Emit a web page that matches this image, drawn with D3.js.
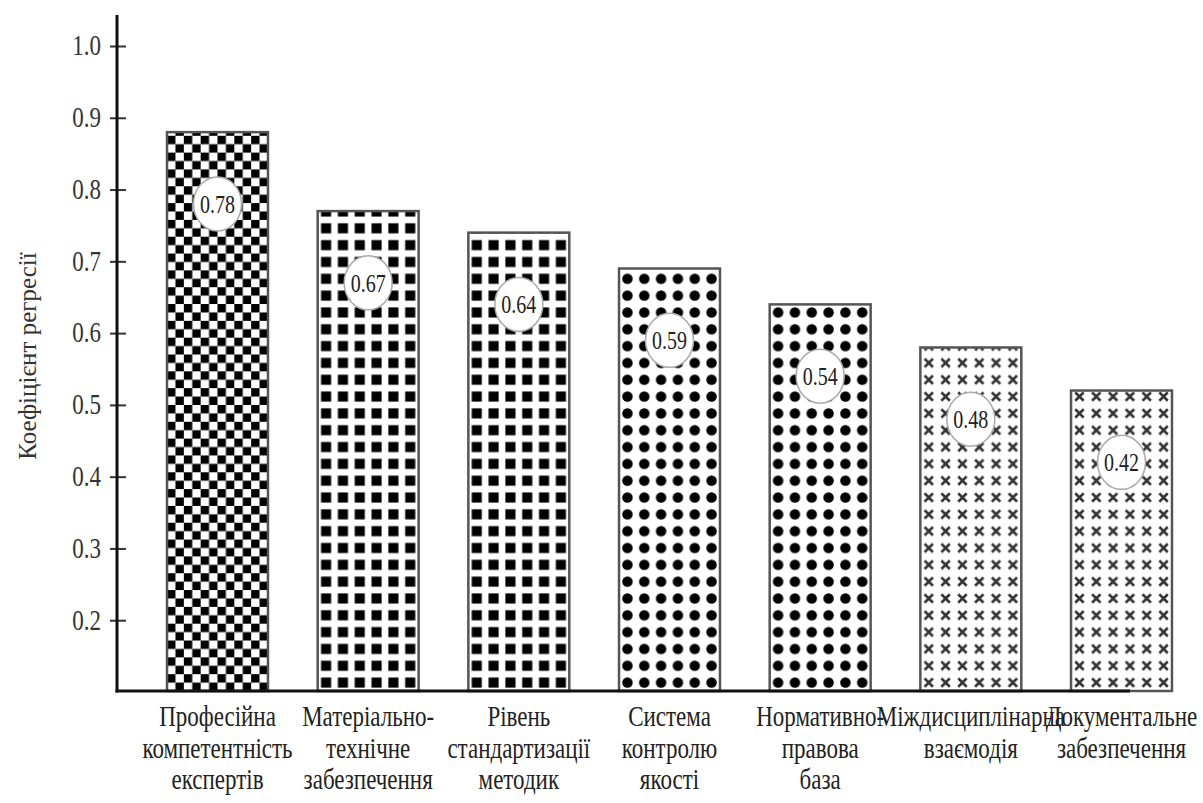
<!DOCTYPE html>
<html lang="uk">
<head>
<meta charset="utf-8">
<title>Коефіцієнт регресії</title>
<script src="https://cdn.jsdelivr.net/npm/d3@7"></script>
<style>
  html, body { margin: 0; padding: 0; background: #ffffff; }
  svg { display: block; }
  text { font-family: "Liberation Serif", "Times New Roman", serif; }
</style>
</head>
<body>
<svg id="chart" width="1203" height="803"></svg>
<script>
// Factors and their regression coefficients
const categories = [
  ["Професійна", "компетентність", "експертів"],
  ["Матеріально-", "технічне", "забезпечення"],
  ["Рівень", "стандартизації", "методик"],
  ["Система", "контролю", "якості"],
  ["Нормативно-", "правова", "база"],
  ["Міждисциплінарна", "взаємодія"],
  ["Документальне", "забезпечення"]
];
const coefficients = [0.78, 0.67, 0.64, 0.59, 0.54, 0.48, 0.42];
const valueLabels = ["0.78", "0.67", "0.64", "0.59", "0.54", "0.48", "0.42"];

// Y axis ticks as printed on the scale
const tickValues = [0.1, 0.2, 0.3, 0.4, 0.5, 0.6, 0.7, 0.8, 0.9];
const tickLabels = ["0.2", "0.3", "0.4", "0.5", "0.6", "0.7", "0.8", "0.9", "1.0"];

const yTitle = "Коефіцієнт регресії";

// Fill pattern of each bar
const fills = ["checker", "squares", "squares", "dots", "dots", "cross", "cross"];

const svg = d3.select("#chart");
const stretch = 1.28; // glyphs are drawn taller than wide

const axisX = 117;
const keys = categories.map((c, i) => "c" + i);

const x = d3.scaleBand()
  .domain(keys)
  .range([axisX, 1222])
  .paddingInner(0.33)
  .paddingOuter(0.332);

const y = d3.scaleLinear()
  .domain([0, 0.9])
  .range([692, 46]);

const baseY = 691;
const period = x.bandwidth() / 6;

// ---- patterns ----
const defs = svg.append("defs");
keys.forEach((k, i) => {
  const p = defs.append("pattern")
    .attr("id", "pat" + i)
    .attr("patternUnits", "userSpaceOnUse")
    .attr("x", x(k))
    .attr("y", baseY)
    .attr("width", period)
    .attr("height", period);
  p.append("rect").attr("width", period).attr("height", period).attr("fill", "#fff");
  const t = fills[i];
  if (t === "checker") {
    p.append("rect").attr("x", 0).attr("y", 0).attr("width", period / 2).attr("height", period / 2).attr("fill", "#000");
    p.append("rect").attr("x", period / 2).attr("y", period / 2).attr("width", period / 2).attr("height", period / 2).attr("fill", "#000");
  } else if (t === "squares") {
    const s = period * 0.6;
    p.append("rect").attr("x", (period - s) / 2).attr("y", (period - s) / 2)
      .attr("width", s).attr("height", s).attr("fill", "#000");
  } else if (t === "dots") {
    p.append("circle").attr("cx", period / 2).attr("cy", period / 2)
      .attr("r", period * 0.31).attr("fill", "#000");
  } else if (t === "cross") {
    const h = period * 0.25;
    const c = period / 2;
    p.append("path")
      .attr("d", `M${c - h},${c - h}L${c + h},${c + h}M${c + h},${c - h}L${c - h},${c + h}`)
      .attr("stroke", "#333").attr("stroke-width", 2.6).attr("fill", "none");
  }
});

// ---- bars ----
svg.append("g").selectAll("rect")
  .data(coefficients)
  .join("rect")
  .attr("x", (d, i) => x(keys[i]))
  .attr("y", d => y(d))
  .attr("width", x.bandwidth())
  .attr("height", d => baseY - y(d))
  .attr("fill", (d, i) => `url(#pat${i})`)
  .attr("stroke", "#555")
  .attr("stroke-width", 2.5);

// ---- value badges ----
const badges = svg.append("g").selectAll("g")
  .data(coefficients)
  .join("g")
  .attr("transform", (d, i) => `translate(${x(keys[i]) + x.bandwidth() / 2},${y(d - 0.1)})`);
badges.append("ellipse")
  .attr("rx", 24).attr("ry", 27)
  .attr("fill", "#fff")
  .attr("stroke", "#aaa")
  .attr("stroke-width", 1.5);
badges.append("text")
  .attr("transform", `scale(1,${stretch})`)
  .attr("text-anchor", "middle")
  .attr("dy", "0.35em")
  .attr("font-size", 20)
  .attr("fill", "#222")
  .text((d, i) => valueLabels[i]);

// ---- y axis ----
const yAxis = d3.axisLeft(y)
  .tickValues(tickValues)
  .tickFormat((d, i) => tickLabels[i])
  .tickSize(7)
  .tickPadding(9);

const gy = svg.append("g")
  .attr("transform", `translate(${axisX},0)`)
  .call(yAxis);
gy.select(".domain").remove();
gy.selectAll(".tick line")
  .attr("x1", 9)
  .attr("stroke", "#333")
  .attr("stroke-width", 2);
gy.selectAll(".tick text")
  .attr("font-size", 23)
  .attr("fill", "#333")
  .attr("transform", `scale(1,${stretch})`)
  .attr("dy", "0.3em");

// axis lines
svg.append("line")
  .attr("x1", axisX).attr("x2", axisX)
  .attr("y1", 15).attr("y2", baseY + 1.5)
  .attr("stroke", "#111").attr("stroke-width", 3);
svg.append("line")
  .attr("x1", axisX - 1.5).attr("x2", 1130)
  .attr("y1", baseY).attr("y2", baseY)
  .attr("stroke", "#111").attr("stroke-width", 3);

// ---- y title ----
svg.append("g")
  .attr("transform", "translate(36,356) rotate(-90)")
  .append("text")
  .attr("text-anchor", "middle")
  .attr("font-size", 25)
  .attr("fill", "#333")
  .text(yTitle);

// ---- category labels ----
const cat = svg.append("g").selectAll("g")
  .data(categories)
  .join("g");
cat.each(function (lines, i) {
  const cx = x(keys[i]) + x.bandwidth() / 2;
  d3.select(this).selectAll("text")
    .data(lines)
    .join("text")
    .attr("transform", (l, j) => `translate(${cx},${726 + j * 31.5}) scale(1,${stretch})`)
    .attr("text-anchor", "middle")
    .attr("font-size", 23)
    .attr("fill", "#222")
    .text(l => l);
});
</script>
</body>
</html>
